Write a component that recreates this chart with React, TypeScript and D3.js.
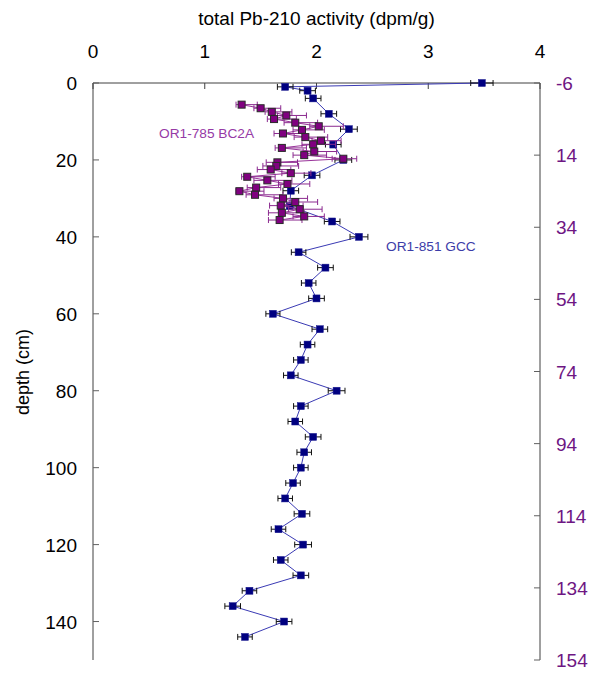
import React from "react";
import * as d3 from "d3";

// ---- data ----
// OR1-851 GCC (left depth axis, cm)
const gccDepth = [0, 1, 2, 4, 8, 12, 16, 20, 24, 28, 32, 36, 40, 44, 48, 52, 56, 60, 64, 68, 72, 76, 80, 84, 88, 92, 96, 100, 104, 108, 112, 116, 120, 124, 128, 132, 136, 140, 144];
const gccActivity = [3.48, 1.72, 1.92, 1.97, 2.11, 2.29, 2.15, 2.24, 1.96, 1.77, 1.76, 2.14, 2.38, 1.84, 2.08, 1.93, 2.0, 1.61, 2.03, 1.92, 1.86, 1.77, 2.18, 1.86, 1.81, 1.97, 1.89, 1.86, 1.79, 1.72, 1.87, 1.66, 1.88, 1.68, 1.86, 1.4, 1.25, 1.71, 1.36];
const gccErr = [0.1, 0.07, 0.07, 0.07, 0.07, 0.075, 0.07, 0.075, 0.07, 0.07, 0.07, 0.07, 0.08, 0.065, 0.07, 0.065, 0.07, 0.063, 0.07, 0.065, 0.065, 0.065, 0.075, 0.065, 0.065, 0.07, 0.065, 0.065, 0.065, 0.065, 0.07, 0.065, 0.075, 0.065, 0.07, 0.065, 0.07, 0.07, 0.065];

// OR1-785 BC2A (right depth axis)
const bcDepth = [0, 1, 2, 3, 4, 5, 6, 7, 8, 9, 10, 11, 12, 13, 14, 15, 16, 17, 18, 19, 20, 21, 22, 23, 24, 25, 26, 27, 28, 29, 30, 31, 32];
const bcActivity = [1.33, 1.5, 1.6, 1.73, 1.62, 1.81, 2.02, 1.87, 1.7, 1.9, 2.04, 1.97, 1.69, 1.98, 1.89, 2.24, 1.65, 1.64, 1.59, 1.77, 1.38, 1.56, 1.74, 1.46, 1.31, 1.45, 1.7, 1.81, 1.68, 1.85, 1.69, 1.89, 1.67];
const bcErrLo = [0.05, 0.06, 0.06, 0.08, 0.06, 0.1, 0.08, 0.08, 0.08, 0.1, 0.08, 0.1, 0.06, 0.1, 0.1, 0.1, 0.1, 0.12, 0.12, 0.08, 0.05, 0.12, 0.08, 0.08, 0.03, 0.08, 0.08, 0.1, 0.1, 0.1, 0.12, 0.1, 0.1];
const bcErrHi = [0.14, 0.18, 0.18, 0.18, 0.2, 0.2, 0.22, 0.2, 0.2, 0.2, 0.18, 0.2, 0.22, 0.2, 0.2, 0.12, 0.18, 0.2, 0.18, 0.18, 0.25, 0.22, 0.2, 0.22, 0.22, 0.25, 0.22, 0.2, 0.2, 0.2, 0.2, 0.18, 0.2];

const xTicks = [0, 1, 2, 3, 4];
const leftTicks = [0, 20, 40, 60, 80, 100, 120, 140];
const rightTicks = [-6, 14, 34, 54, 74, 94, 114, 134, 154];

const title = "total Pb-210 activity (dpm/g)";
const yTitle = "depth (cm)";
const gccLabel = "OR1-851 GCC";
const bcLabel = "OR1-785 BC2A";

export default function App() {
  const W = 597, H = 675;
  const x = d3.scaleLinear().domain([0, 4]).range([93, 540]);
  const yL = d3.scaleLinear().domain([0, 150]).range([83, 660]);
  const yR = d3.scaleLinear().domain([-6, 154]).range([83, 660]);

  const gcc = gccDepth.map((d, i) => ({ d, a: gccActivity[i], e: gccErr[i] }));
  const bc = bcDepth.map((d, i) => ({ d, a: bcActivity[i], lo: bcErrLo[i], hi: bcErrHi[i] }));

  const gccLine = d3.line<any>().x((p) => x(p.a)).y((p) => yL(p.d))(gcc) || "";
  const bcLine = d3.line<any>().x((p) => x(p.a)).y((p) => yR(p.d))(bc) || "";

  const font = "'Liberation Sans', Arial, sans-serif";
  const ms = 7;
  const cap = 3;

  return (
    <div style={{ position: "absolute", left: 0, top: 0 }}>
      <svg width={W} height={H} style={{ display: "block", background: "#fff" }} fontFamily={font}>
        {/* frame */}
        <line x1={93} x2={540} y1={83} y2={83} stroke="#404040" strokeWidth={1} />
        <line x1={93} x2={93} y1={83} y2={660} stroke="#404040" strokeWidth={1} />
        <line x1={540} x2={540} y1={83} y2={660} stroke="#404040" strokeWidth={1} />

        {/* top ticks */}
        {xTicks.map((t) => (
          <g key={"xt" + t}>
            <line x1={x(t)} x2={x(t)} y1={83} y2={89} stroke="#404040" />
            <text x={x(t)} y={58} textAnchor="middle" fontSize={19} fill="#000">{t}</text>
          </g>
        ))}
        {/* left ticks */}
        {leftTicks.map((t) => (
          <g key={"lt" + t}>
            <line x1={93} x2={99} y1={yL(t)} y2={yL(t)} stroke="#606060" />
            <text x={77} y={yL(t) + 7} textAnchor="end" fontSize={19} fill="#000">{t}</text>
          </g>
        ))}
        {/* right ticks */}
        {rightTicks.map((t) => (
          <g key={"rt" + t}>
            <line x1={534} x2={540} y1={yR(t)} y2={yR(t)} stroke="#606060" />
            <text x={556} y={yR(t) + 7} textAnchor="start" fontSize={19} fill="#6E1683">{t}</text>
          </g>
        ))}

        <text x={316.5} y={25} textAnchor="middle" fontSize={19} fill="#000">{title}</text>
        <text transform={`translate(29,372) rotate(-90)`} textAnchor="middle" fontSize={18} fill="#000">{yTitle}</text>

        {/* GCC series */}
        <path d={gccLine} fill="none" stroke="#3a3ab4" strokeWidth={1} />
        {gcc.map((p, i) => (
          <g key={"ge" + i} stroke="#111" strokeWidth={1}>
            <line x1={x(p.a - p.e)} x2={x(p.a + p.e)} y1={yL(p.d)} y2={yL(p.d)} />
            <line x1={x(p.a - p.e)} x2={x(p.a - p.e)} y1={yL(p.d) - cap} y2={yL(p.d) + cap} />
            <line x1={x(p.a + p.e)} x2={x(p.a + p.e)} y1={yL(p.d) - cap} y2={yL(p.d) + cap} />
          </g>
        ))}
        {gcc.map((p, i) => (
          <rect key={"gm" + i} x={x(p.a) - ms / 2} y={yL(p.d) - ms / 2} width={ms} height={ms} fill="#000080" stroke="#1a1a90" strokeWidth={0.5} />
        ))}

        {/* BC2A series */}
        <path d={bcLine} fill="none" stroke="#99339A" strokeWidth={1} />
        {bc.map((p, i) => (
          <g key={"be" + i} stroke="#8B2A8F" strokeWidth={1}>
            <line x1={x(p.a - p.lo)} x2={x(p.a + p.hi)} y1={yR(p.d)} y2={yR(p.d)} />
            <line x1={x(p.a - p.lo)} x2={x(p.a - p.lo)} y1={yR(p.d) - cap} y2={yR(p.d) + cap} />
            <line x1={x(p.a + p.hi)} x2={x(p.a + p.hi)} y1={yR(p.d) - cap} y2={yR(p.d) + cap} />
          </g>
        ))}
        {bc.map((p, i) => (
          <rect key={"bm" + i} x={x(p.a) - ms / 2} y={yR(p.d) - ms / 2} width={ms} height={ms} fill="#800080" stroke="#2a2a2a" strokeWidth={1} />
        ))}

        <text x={159} y={138} fontSize={13.7} fill="#963AA6">{bcLabel}</text>
        <text x={386} y={251} fontSize={13.7} fill="#3C3CA8">{gccLabel}</text>
      </svg>
    </div>
  );
}
